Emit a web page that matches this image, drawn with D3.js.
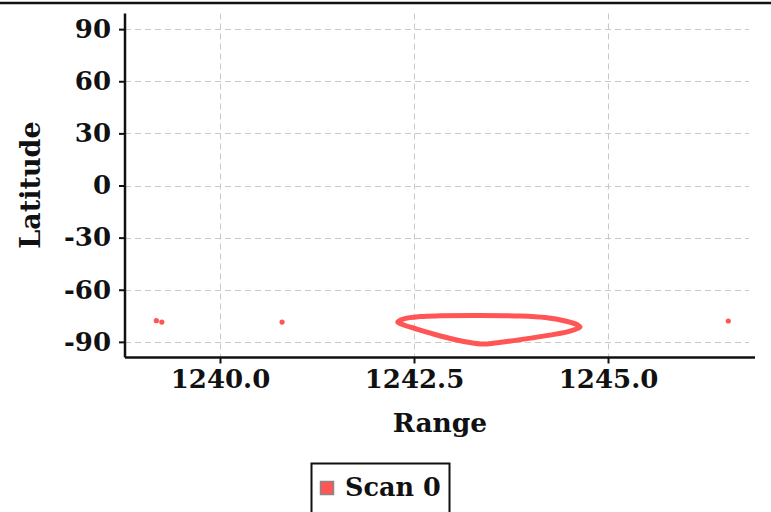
<!DOCTYPE html>
<html>
<head>
<meta charset="utf-8">
<script src="https://cdn.jsdelivr.net/npm/d3@7"></script>
<style>
  html, body { margin: 0; padding: 0; background: #fff; }
  svg { display: block; }
  text { font-family: "DejaVu Serif", serif; font-weight: bold; fill: #111; }
</style>
</head>
<body>
<svg id="chart" width="771" height="512"></svg>
<script>
// Scan 0 samples: isolated returns
const isolatedRange = [1239.18, 1239.25, 1240.80, 1246.55];
const isolatedLat   = [-77.8, -78.6, -78.6, -78.0];

// Scan 0 samples: closed trace
const traceRange = [1242.29, 1242.38, 1242.58, 1242.84, 1243.35, 1243.87, 1244.19, 1244.45,
                    1244.61, 1244.64, 1244.51, 1244.25, 1243.87, 1243.54, 1243.39, 1243.22,
                    1242.84, 1242.51, 1242.35];
const traceLat   = [-78.6, -76.6, -75.4, -75.0, -74.8, -75.1, -76.0, -78.0,
                    -80.3, -81.5, -83.8, -86.1, -88.7, -90.7, -91.3, -90.4,
                    -86.6, -82.3, -80.0];

const xTicks = [1240.0, 1242.5, 1245.0];
const yTicks = [90, 60, 30, 0, -30, -60, -90];
const seriesName = "Scan 0";
const xDomain = [1238.776, 1246.894];
const yDomain = [-99, 99];

const svg = d3.select("#chart");
const W = 771;
const plot = { left: 125, right: 755, top: 13.5, bottom: 357.5 };
const color = "#ff5555";

const x = d3.scaleLinear().domain(xDomain).range([plot.left, plot.right]);
const y = d3.scaleLinear().domain(yDomain).range([plot.bottom, plot.top]);

// rule across the top of the frame
svg.append("line").attr("x1", 0).attr("x2", W).attr("y1", 3).attr("y2", 3)
  .attr("stroke", "#111").attr("stroke-width", 2.5);

// grid
const grid = svg.append("g").attr("stroke", "#c8c8c8").attr("stroke-width", 1)
  .attr("stroke-dasharray", "6,4");
grid.selectAll(".gy").data(yTicks).join("line")
  .attr("x1", plot.left).attr("x2", 749)
  .attr("y1", d => Math.round(y(d)) + 0.5).attr("y2", d => Math.round(y(d)) + 0.5);
grid.selectAll(".gx").data(xTicks).join("line")
  .attr("y1", plot.top).attr("y2", plot.bottom)
  .attr("x1", d => Math.round(x(d)) + 0.5).attr("x2", d => Math.round(x(d)) + 0.5);

// axes (plain hyphen for negative labels)
const xAxis = svg.append("g").attr("transform", `translate(0,${plot.bottom})`)
  .call(d3.axisBottom(x).tickValues(xTicks).tickFormat(d => d.toFixed(1)).tickSize(6).tickPadding(6));
const yAxis = svg.append("g").attr("transform", `translate(${plot.left},0)`)
  .call(d3.axisLeft(y).tickValues(yTicks).tickFormat(d => String(d)).tickSize(6).tickPadding(8));
[xAxis, yAxis].forEach(a => {
  a.select(".domain").attr("stroke", "#111").attr("stroke-width", 2.5);
  a.selectAll(".tick line").attr("stroke", "#111").attr("stroke-width", 2);
  a.selectAll(".tick text").attr("font-size", 26).attr("font-family", "DejaVu Serif")
    .attr("font-weight", "bold").attr("fill", "#111");
});
xAxis.select(".domain").attr("d", `M${plot.left},0H${plot.right}`);
yAxis.select(".domain").attr("d", `M0,${plot.top}V${plot.bottom}`);

// closed trace
const tracePts = traceRange.map((r, i) => [x(r), y(traceLat[i])]);
svg.append("path")
  .attr("d", d3.line().curve(d3.curveCatmullRomClosed.alpha(0.5))(tracePts))
  .attr("fill", "none").attr("stroke", color).attr("stroke-width", 5)
  .attr("stroke-linejoin", "round");

// isolated returns
svg.append("g").selectAll("circle").data(isolatedRange).join("circle")
  .attr("cx", d => x(d)).attr("cy", (d, i) => y(isolatedLat[i]))
  .attr("r", 2.6).attr("fill", color);

// axis titles
svg.append("text").attr("x", 440).attr("y", 432).attr("text-anchor", "middle")
  .attr("font-size", 26.5).text("Range");
svg.append("text").attr("transform", "translate(40,185) rotate(-90)")
  .attr("text-anchor", "middle").attr("font-size", 27).text("Latitude");

// legend
const lg = svg.append("g");
lg.append("rect").attr("x", 311.5).attr("y", 463.5).attr("width", 138).attr("height", 60)
  .attr("fill", "#fff").attr("stroke", "#111").attr("stroke-width", 2);
lg.append("rect").attr("x", 320.5).attr("y", 481.5).attr("width", 13).attr("height", 13)
  .attr("fill", color).attr("stroke", "#888").attr("stroke-width", 1.5);
lg.append("text").attr("x", 345).attr("y", 496).attr("font-size", 25.5).text(seriesName);
</script>
</body>
</html>
